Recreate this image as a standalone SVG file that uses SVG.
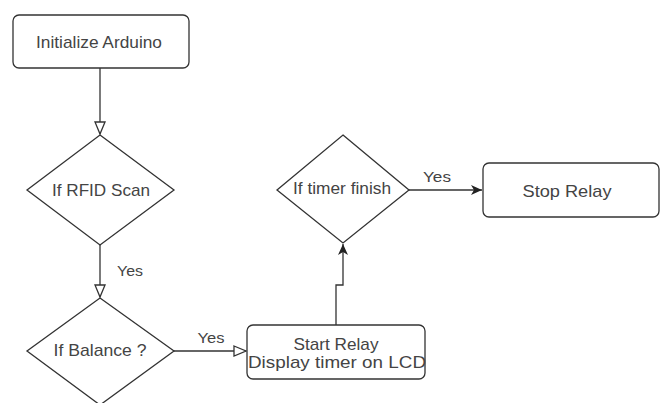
<svg xmlns="http://www.w3.org/2000/svg" width="667" height="403" viewBox="0 0 667 403">
  <defs>
    <style>
      .shape { fill: #ffffff; stroke: #333333; stroke-width: 1.3; }
      .label { font-family: "Liberation Sans", Arial, sans-serif; font-size: 17px; fill: #444444; text-anchor: middle; }
      .edge-label { font-family: "Liberation Sans", Arial, sans-serif; font-size: 15.5px; fill: #444444; text-anchor: middle; }
      .edge { fill: none; stroke: #333333; stroke-width: 1.3; }
    </style>
    <marker id="open-arrow" markerUnits="userSpaceOnUse" markerWidth="16" markerHeight="14" refX="13" refY="6" orient="auto">
      <path d="M1,1 L13,6 L1,11 Z" fill="#ffffff" stroke="#333333" stroke-width="1.3"/>
    </marker>
    <marker id="solid-arrow" markerUnits="userSpaceOnUse" markerWidth="14" markerHeight="12" refX="11" refY="5" orient="auto">
      <path d="M0,0 L11,5 L0,10 L3,5 Z" fill="#222222" stroke="none"/>
    </marker>
  </defs>

  <g id="connectors">
    <path class="edge" d="M100,68 L100,134" marker-end="url(#open-arrow)"/>
    <path class="edge" d="M100,245 L100,297" marker-end="url(#open-arrow)"/>
    <path class="edge" d="M174,351 L246,351" marker-end="url(#open-arrow)"/>
    <path class="edge" d="M336,325 L336,285 L343,285 L343,244" marker-end="url(#solid-arrow)"/>
    <path class="edge" d="M409,190 L482,190" marker-end="url(#solid-arrow)"/>
    <text class="edge-label" x="130" y="276" textLength="26" lengthAdjust="spacingAndGlyphs">Yes</text>
    <text class="edge-label" x="211" y="343" textLength="27" lengthAdjust="spacingAndGlyphs">Yes</text>
    <text class="edge-label" x="437" y="182" textLength="28" lengthAdjust="spacingAndGlyphs">Yes</text>
  </g>

  <g id="init-arduino">
    <rect class="shape" x="13" y="15" width="176" height="53" rx="6"/>
    <text class="label" x="99" y="48" textLength="126" lengthAdjust="spacingAndGlyphs">Initialize Arduino</text>
  </g>

  <g id="if-rfid-scan">
    <polygon class="shape" points="100,135 174,190 100,245 27,190"/>
    <text class="label" x="101" y="196" textLength="98" lengthAdjust="spacingAndGlyphs">If RFID Scan</text>
  </g>

  <g id="if-balance">
    <polygon class="shape" points="100,298 174,351 100,405 27,351"/>
    <text class="label" x="100" y="356" textLength="93" lengthAdjust="spacingAndGlyphs">If Balance ?</text>
  </g>

  <g id="start-relay">
    <rect class="shape" x="247" y="325" width="178" height="54" rx="6"/>
    <text class="label" x="336" y="350" textLength="85" lengthAdjust="spacingAndGlyphs">Start Relay</text>
    <text class="label" x="337" y="368" textLength="178" lengthAdjust="spacingAndGlyphs">Display timer on LCD</text>
  </g>

  <g id="if-timer-finish">
    <polygon class="shape" points="343,135 409,190 343,243 277,190"/>
    <text class="label" x="342" y="194" textLength="98" lengthAdjust="spacingAndGlyphs">If timer finish</text>
  </g>

  <g id="stop-relay">
    <rect class="shape" x="483" y="163" width="176" height="54" rx="6"/>
    <text class="label" x="567" y="197" textLength="89" lengthAdjust="spacingAndGlyphs">Stop Relay</text>
  </g>
</svg>
